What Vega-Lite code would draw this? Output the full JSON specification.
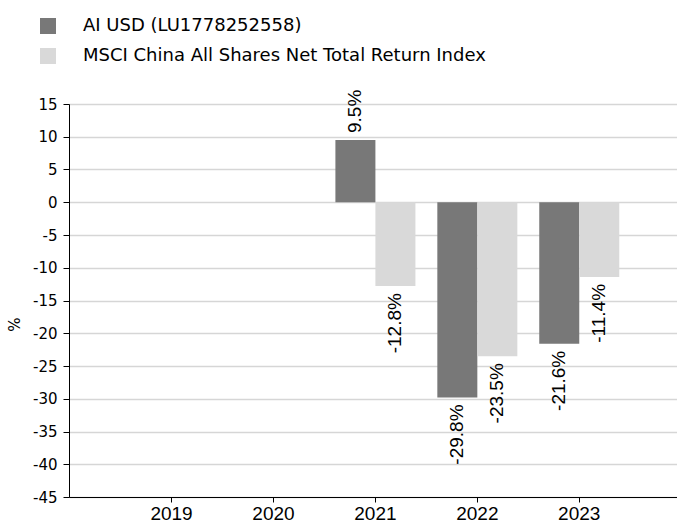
{
  "$schema": "https://vega.github.io/schema/vega-lite/v6.json",
  "width": 608,
  "height": 393,
  "autosize": {"type": "none"},
  "padding": {"left": 69, "top": 104, "right": 0, "bottom": 25},
  "background": "white",
  "config": {"view": {"stroke": null}, "font": "DejaVu Sans"},
  "data": {
    "values": [
      {"year": "2021", "series": "AI USD (LU1778252558)", "value": 9.5, "label": "9.5%"},
      {"year": "2022", "series": "AI USD (LU1778252558)", "value": -29.8, "label": "-29.8%"},
      {"year": "2023", "series": "AI USD (LU1778252558)", "value": -21.6, "label": "-21.6%"},
      {"year": "2021", "series": "MSCI China All Shares Net Total Return Index", "value": -12.8, "label": "-12.8%"},
      {"year": "2022", "series": "MSCI China All Shares Net Total Return Index", "value": -23.5, "label": "-23.5%"},
      {"year": "2023", "series": "MSCI China All Shares Net Total Return Index", "value": -11.4, "label": "-11.4%"}
    ]
  },
  "encoding": {
    "x": {
      "field": "year",
      "type": "nominal",
      "scale": {"domain": ["2019", "2020", "2021", "2022", "2023"], "paddingInner": 0.215, "paddingOuter": 0.59, "align": 0.52},
      "axis": {
        "title": null,
        "labelAngle": 0,
        "labelFont": "Liberation Sans",
        "labelFontSize": 19,
        "labelColor": "black",
        "labelPadding": 2,
        "tickSize": 5,
        "tickColor": "black",
        "domainColor": "black",
        "grid": false,
        "zindex": 0
      }
    },
    "xOffset": {"field": "series", "type": "nominal", "sort": ["AI USD (LU1778252558)", "MSCI China All Shares Net Total Return Index"]},
    "y": {
      "field": "value",
      "type": "quantitative",
      "scale": {"domain": [-45, 15], "nice": false},
      "axis": {
        "values": [-45, -40, -35, -30, -25, -20, -15, -10, -5, 0, 5, 10, 15],
        "labelExpr": "replace(datum.label, '\u2212', '-')",
        "grid": true,
        "gridColor": "#d6d6d6",
        "gridWidth": 1.5,
        "domainColor": "black",
        "tickColor": "black",
        "tickSize": 6,
        "labelPadding": 6,
        "labelFontSize": 15,
        "labelFont": "DejaVu Sans",
        "labelColor": "black",
        "title": "%",
        "titleFont": "DejaVu Sans",
        "titleFontSize": 15,
        "titleFontWeight": "normal",
        "titleColor": "black",
        "titleX": -55,
        "titleY": 220,
        "titleAngle": 270,
        "titleBaseline": "middle",
        "titleAlign": "center",
        "zindex": 0
      }
    }
  },
  "layer": [
    {
      "mark": {"type": "bar", "strokeWidth": 0},
      "encoding": {
        "color": {
          "field": "series",
          "type": "nominal",
          "scale": {"domain": ["AI USD (LU1778252558)", "MSCI China All Shares Net Total Return Index"], "range": ["#787878", "#d9d9d9"]},
          "legend": {
            "orient": "none",
            "legendX": -30,
            "legendY": -87,
            "title": null,
            "symbolType": "square",
            "symbolSize": 256,
            "symbolStrokeWidth": 0,
            "symbolOpacity": 1,
            "labelFont": "DejaVu Sans",
            "labelFontSize": 18,
            "labelColor": "black",
            "labelOffset": 26,
            "labelLimit": 1000,
            "rowPadding": 12,
            "padding": 0
          }
        }
      }
    },
    {
      "transform": [{"filter": "datum.value >= 0"}],
      "mark": {"type": "text", "angle": 270, "align": "left", "baseline": "middle", "dx": 7, "font": "Liberation Sans", "fontSize": 19, "color": "black"},
      "encoding": {"text": {"field": "label"}}
    },
    {
      "transform": [{"filter": "datum.value < 0"}],
      "mark": {"type": "text", "angle": 270, "align": "right", "baseline": "middle", "dx": -7, "font": "Liberation Sans", "fontSize": 19, "color": "black"},
      "encoding": {"text": {"field": "label"}}
    }
  ]
}
